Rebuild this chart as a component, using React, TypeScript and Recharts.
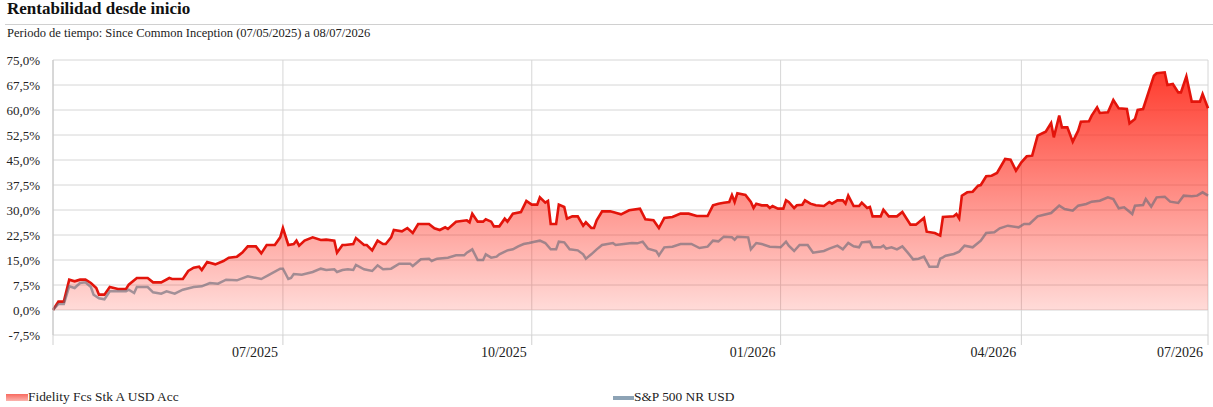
import { ComposedChart, Area, Line, XAxis, YAxis, CartesianGrid } from "recharts";

// days since 07/05/2025
const fundDays = [
  0, 2, 4, 6, 8, 10, 12, 14, 16, 17, 19, 21, 24, 27, 28, 31, 35, 37, 40, 43, 44, 48, 50, 52, 54, 55, 57, 60, 63, 65,
  68, 70, 72, 75, 77, 79, 82, 84, 85, 87, 89, 90, 91, 93, 96, 99, 101, 104, 105, 107, 108, 111, 112, 115, 116, 118, 120, 122, 123, 125,
  126, 129, 131, 133, 135, 139, 141, 143, 145, 146, 149, 153, 154, 155, 157, 159, 160, 162, 163, 165, 167, 168, 170, 173, 175, 177, 179, 180, 182, 183,
  184, 186, 187, 189, 190, 192, 194, 196, 197, 199, 200, 201, 203, 206, 208, 210, 213, 217, 219, 222, 224, 226, 229, 232, 235, 238, 242, 244, 246, 248,
  250, 251, 252, 253, 256, 258, 259, 260, 262, 264, 265, 266, 268, 270, 271, 272, 274, 275, 277, 278, 280, 282, 285, 287, 288, 290, 292, 293, 294, 296,
  298, 299, 301, 302, 303, 306, 307, 309, 312, 314, 317, 319, 322, 323, 326, 328, 329, 333, 334, 335, 336, 338, 340, 342, 343, 345, 347, 349, 352, 354,
  356, 358, 360, 362, 364, 366, 367, 369, 370, 372, 373, 375, 377, 379, 380, 383, 384, 386, 387, 390, 392, 394, 397, 398, 400, 401, 403, 405, 407, 408,
  411, 412, 414, 416, 417, 419, 421, 424, 425, 427,
];
const fundValues = [
  0, 2.5, 2.5, 9.1, 8.6, 9.1, 9.1, 8.1, 6.6, 4.6, 4.6, 6.9, 6.3, 6.3, 7.6, 9.6, 9.6, 8.3, 8.3, 9.6, 9.3, 9.3, 11.7, 12.7, 13.0, 12.0, 14.4, 13.7, 14.7, 15.7,
  16.0, 17.2, 19.1, 19.1, 17.0, 19.5, 19.5, 21.8, 24.6, 19.5, 19.8, 20.8, 19.3, 20.8, 21.8, 21.0, 21.1, 20.8, 17.2, 19.5, 19.5, 19.8, 21.6, 19.5, 19.5, 17.9, 20.8, 19.8, 19.8, 21.8,
  24.0, 23.6, 24.6, 23.1, 25.8, 25.8, 24.5, 24.0, 24.8, 24.3, 26.5, 26.9, 26.3, 28.9, 26.5, 26.5, 27.2, 26.5, 25.1, 25.1, 27.4, 26.5, 28.9, 29.4, 32.7, 31.6, 31.6, 33.8, 32.2, 32.7,
  25.8, 25.8, 31.6, 30.9, 27.4, 28.1, 28.1, 25.3, 26.3, 24.6, 24.6, 26.9, 29.6, 29.6, 29.2, 28.7, 29.9, 30.4, 27.2, 26.9, 24.6, 27.6, 27.9, 28.9, 28.9, 28.2, 28.2, 31.4, 31.9, 32.2,
  32.4, 34.5, 32.4, 35.0, 34.5, 32.4, 30.6, 31.9, 31.4, 31.4, 30.6, 31.2, 30.4, 30.4, 32.9, 32.4, 30.6, 31.4, 31.6, 32.9, 31.9, 31.4, 31.2, 32.4, 31.9, 32.9, 32.9, 31.9, 34.3, 31.2,
  31.2, 32.2, 30.6, 30.9, 28.1, 28.1, 30.1, 28.1, 28.1, 29.4, 25.6, 25.6, 27.6, 23.5, 23.1, 22.3, 27.9, 28.1, 28.8, 27.5, 34.3, 35.3, 35.5, 37.3, 37.5, 40.1, 40.3, 41.1, 45.3, 45.1,
  41.8, 44.3, 46.1, 46.3, 52.3, 53.1, 53.5, 56.1, 51.8, 58.3, 54.8, 54.8, 50.5, 53.8, 56.5, 56.6, 58.3, 60.8, 59.1, 59.3, 63.0, 60.5, 60.3, 56.0, 57.3, 60.0, 60.3, 65.3, 70.3, 71.0,
  71.3, 67.5, 67.8, 65.3, 65.3, 70.1, 62.5, 62.5, 64.8, 60.5,
];

const benchDays = [
  0, 2, 4, 6, 8, 10, 12, 14, 15, 17, 19, 21, 24, 27, 28, 30, 31, 35, 37, 40, 42, 45, 48, 52, 55, 58, 61, 64, 68, 72,
  77, 80, 84, 85, 87, 88, 89, 92, 96, 99, 101, 104, 105, 107, 109, 111, 112, 115, 118, 120, 122, 125, 128, 132, 133, 136, 139, 140, 142, 146,
  149, 152, 153, 155, 157, 159, 160, 162, 164, 165, 168, 170, 172, 174, 176, 178, 180, 182, 184, 186, 187, 189, 191, 194, 196, 197, 199, 201, 203, 207,
  208, 211, 214, 216, 218, 220, 223, 224, 226, 229, 232, 236, 239, 242, 244, 246, 248, 251, 252, 253, 257, 258, 260, 262, 265, 269, 271, 272, 274, 276,
  279, 281, 285, 287, 290, 292, 294, 296, 298, 299, 302, 303, 306, 307, 308, 310, 312, 314, 316, 318, 320, 322, 324, 327, 328, 329, 330, 333, 335, 337,
  340, 343, 345, 348, 350, 353, 357, 359, 361, 364, 366, 369, 372, 374, 377, 379, 382, 384, 387, 390, 392, 394, 396, 399, 400, 403, 404, 406, 408, 411,
  413, 416, 418, 421, 423, 425, 427,
];
const benchValues = [
  0, 1.8, 1.8, 7.1, 6.6, 8.1, 8.3, 6.9, 4.6, 3.5, 3.2, 5.6, 5.6, 5.6, 6.1, 5.1, 6.9, 6.9, 5.3, 4.9, 5.6, 4.9, 6.1, 6.9, 7.1, 8.1, 7.9, 9.1, 8.9, 10.1,
  9.3, 10.6, 12.4, 12.4, 9.3, 9.6, 10.8, 10.6, 11.4, 12.4, 12.0, 12.2, 11.4, 12.0, 12.2, 12.0, 13.5, 12.2, 11.7, 13.4, 12.2, 12.4, 13.9, 13.9, 13.2, 15.2, 15.4, 14.7, 15.4, 15.7,
  16.4, 16.4, 17.2, 18.2, 15.0, 15.0, 16.7, 15.7, 16.0, 16.7, 17.9, 18.2, 19.1, 19.8, 20.1, 20.5, 20.8, 20.1, 18.2, 18.2, 20.5, 20.3, 18.2, 17.9, 16.7, 15.4, 16.7, 18.2, 19.5, 20.1,
  19.5, 19.8, 20.1, 20.0, 20.5, 18.4, 17.7, 16.4, 18.8, 19.0, 19.8, 19.8, 18.6, 19.0, 20.8, 20.6, 22.0, 21.8, 21.1, 22.0, 21.8, 18.2, 20.1, 19.8, 19.0, 18.8, 20.5, 19.3, 17.7, 19.5,
  19.5, 17.2, 17.7, 18.4, 19.3, 18.2, 20.1, 19.1, 18.8, 20.3, 20.5, 18.8, 18.8, 19.3, 18.4, 18.8, 18.2, 19.1, 17.2, 15.2, 15.4, 16.0, 13.0, 13.0, 15.4, 15.8, 16.3, 16.8, 17.5, 19.3,
  18.8, 20.8, 23.1, 23.3, 24.5, 25.3, 24.8, 25.8, 25.8, 28.1, 28.5, 29.1, 31.3, 30.3, 29.8, 31.3, 31.8, 32.5, 32.8, 33.8, 33.3, 30.5, 30.8, 28.8, 31.3, 31.5, 33.3, 31.0, 33.8, 34.0,
  32.5, 32.1, 34.3, 34.1, 34.3, 35.3, 34.3,
];

const yTicks = [-7.5, 0, 7.5, 15, 22.5, 30, 37.5, 45, 52.5, 60, 67.5, 75];
const xTicks = [0, 85, 177, 269, 358, 427];
const xTickLabels = ["", "07/2025", "10/2025", "01/2026", "04/2026", "07/2026"];

const fundName = "Fidelity Fcs Stk A USD Acc";
const benchName = "S&P 500 NR USD";

const fundData = fundDays.map((day, i) => ({ day, fund: fundValues[i] }));
const benchData = benchDays.map((day, i) => ({ day, bench: benchValues[i] }));

const FONT = "'Liberation Serif', serif";
const pct = (v: number) => v.toFixed(1).replace(".", ",") + "%";

const XTick = ({ x, y, payload }: any) => {
  const label = xTickLabels[xTicks.indexOf(payload.value)];
  return (
    <text x={x - 5} y={y} dy="0.71em" textAnchor="end" fontSize={14} fontFamily={FONT} fill="#222">
      {label}
    </text>
  );
};

export default function App() {
  return (
    <div style={{ position: "absolute", left: 0, top: 0, width: 1213, height: 407, background: "#fff", fontFamily: FONT, color: "#111" }}>
      <div style={{ position: "absolute", left: 7, top: 0, fontSize: 17, fontWeight: 700, lineHeight: 1, whiteSpace: "nowrap" }}>
        Rentabilidad desde inicio
      </div>
      <div style={{ position: "absolute", left: 5, right: 0, top: 24, borderTop: "1px solid #d0d0d0" }} />
      <div style={{ position: "absolute", left: 7, top: 27, fontSize: 12.5, lineHeight: 1, whiteSpace: "nowrap", color: "#222" }}>
        Periodo de tiempo: Since Common Inception (07/05/2025) a 08/07/2026
      </div>

      <div style={{ position: "absolute", left: 0, top: 0 }}>
        <ComposedChart width={1213} height={365} margin={{ top: 60, right: 5, bottom: 0, left: 0 }}>
          <defs>
            <linearGradient id="fundFill" x1="0" y1="0" x2="0" y2="1">
              <stop offset="0%" stopColor="#ff2b1c" stopOpacity={0.92} />
              <stop offset="100%" stopColor="#ff2b1c" stopOpacity={0.17} />
            </linearGradient>
          </defs>
          <CartesianGrid stroke="#d6d6d6" />
          <XAxis
            type="number"
            dataKey="day"
            domain={[0, 427]}
            ticks={xTicks}
            interval={0}
            height={30}
            axisLine={false}
            tickSize={10}
            tickMargin={2}
            tickLine={{ stroke: "#d0d0d0" }}
            tick={<XTick />}
          />
          <YAxis
            type="number"
            domain={[-7.5, 75]}
            ticks={yTicks}
            interval={0}
            width={53}
            tickFormatter={pct}
            axisLine={{ stroke: "#c4c4c4" }}
            tickLine={false}
            tickMargin={7}
            tick={{ fontSize: 13, fontFamily: FONT, fill: "#222" }}
          />
          <Area
            data={fundData}
            dataKey="fund"
            name={fundName}
            type="linear"
            baseValue={0}
            stroke="#e3140b"
            strokeWidth={2.6}
            fill="url(#fundFill)"
            fillOpacity={1}
            dot={false}
            activeDot={false}
            isAnimationActive={false}
          />
          <Line
            data={benchData}
            dataKey="bench"
            name={benchName}
            type="linear"
            stroke="rgba(105,105,120,0.62)"
            strokeWidth={2.5}
            dot={false}
            activeDot={false}
            isAnimationActive={false}
          />
        </ComposedChart>
      </div>

      <div style={{ position: "absolute", left: 6, top: 394, width: 22, height: 7, background: "linear-gradient(#f86a60, #fbb4ae)" }} />
      <div style={{ position: "absolute", left: 28, top: 390, fontSize: 13.4, lineHeight: 1, whiteSpace: "nowrap", color: "#222" }}>
        {fundName}
      </div>
      <div style={{ position: "absolute", left: 613, top: 396, width: 21, height: 4, background: "#8da3b5" }} />
      <div style={{ position: "absolute", left: 634, top: 390, fontSize: 13.4, lineHeight: 1, whiteSpace: "nowrap", color: "#222" }}>
        {benchName}
      </div>
    </div>
  );
}
